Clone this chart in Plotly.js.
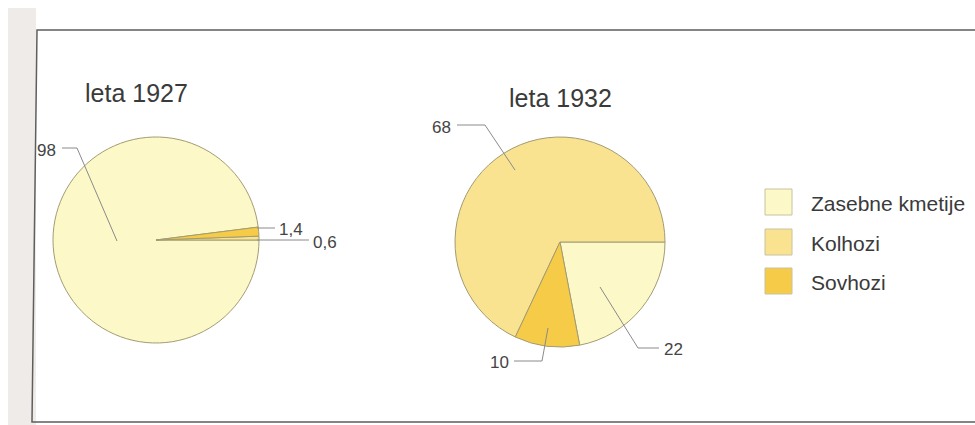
<!DOCTYPE html>
<html>
<head>
<meta charset="utf-8">
<script src="https://cdn.plot.ly/plotly-3.0.1.min.js"></script>
<style>html,body{margin:0;padding:0;background:#fff;}#chart{width:975px;height:425px;}</style>
</head>
<body>
<div id="chart"></div>
<script>
// ---- data ----
const categories = ["Zasebne kmetije", "Kolhozi", "Sovhozi"];
const values1927 = [98, 0.6, 1.4];
const values1932 = [22, 68, 10];
const years = ["leta 1927", "leta 1932"];

// ---- style ----
const colors = ["#FDF8C8", "#F9E391", "#F6CB47"];
const W = 975, H = 425;
const px = x => x / W;
const py = y => 1 - y / H;
const FONT = "Liberation Sans, Arial, sans-serif";
const fmt = v => String(v).replace(".", ",");

function pie(values, cx, cy, r, rotation) {
  return {
    type: "pie",
    labels: categories,
    values: values,
    sort: false,
    direction: "counterclockwise",
    rotation: rotation,
    textinfo: "none",
    hoverinfo: "label+value",
    showlegend: false,
    marker: { colors: colors, line: { color: "#A39C72", width: 1 } },
    domain: { x: [px(cx - r), px(cx + r)], y: [py(cy + r), py(cy - r)] }
  };
}

const data = [
  pie(values1927, 156, 240, 103, 90),
  pie(values1932, 560, 242, 105, 90)
];

// label placement (text position, anchor, leader polyline) per pie / category index
const labelSpecs = [
  { vals: values1927, items: [
    { i: 0, tx: 58, ty: 150, anchor: "right", path: [[62,148],[77,148],[117,241]] },
    { i: 2, tx: 277, ty: 229, anchor: "left", path: [[257,228],[275,228]] },
    { i: 1, tx: 311, ty: 242, anchor: "left", path: [[257,240],[309,240]] }
  ]},
  { vals: values1932, items: [
    { i: 1, tx: 453, ty: 127, anchor: "right", path: [[457,125],[485,125],[515,170]] },
    { i: 2, tx: 511, ty: 362, anchor: "right", path: [[514,361],[542,361],[548,328]] },
    { i: 0, tx: 662, ty: 349, anchor: "left", path: [[600,287],[638,348],[659,348]] }
  ]}
];

const shapes = [];
const annotations = [];

// page background / scan frame
shapes.push({ type: "rect", xref: "paper", yref: "paper", x0: px(8), x1: px(36), y0: py(425), y1: py(8),
  fillcolor: "#EFEBE9", line: { width: 0 }, layer: "below" });
shapes.push({ type: "path", xref: "paper", yref: "paper",
  path: `M${px(975)},${py(30)} L${px(37)},${py(30)} L${px(32)},${py(422)} L${px(975)},${py(422)}`,
  line: { color: "#5E5E5E", width: 1.5 } });

// titles
const titlePos = [[136, 93], [560, 98]];
years.forEach((t, k) => annotations.push({
  text: t, xref: "paper", yref: "paper", x: px(titlePos[k][0]), y: py(titlePos[k][1]),
  xanchor: "center", yanchor: "middle", showarrow: false,
  font: { family: FONT, size: 25, color: "#3A3A3A" }
}));

// value labels with leader lines
labelSpecs.forEach(spec => spec.items.forEach(it => {
  annotations.push({
    text: fmt(spec.vals[it.i]), xref: "paper", yref: "paper", x: px(it.tx), y: py(it.ty),
    xanchor: it.anchor, yanchor: "middle", showarrow: false,
    font: { family: FONT, size: 17, color: "#444" }
  });
  const p = it.path.map((q, j) => (j ? "L" : "M") + px(q[0]) + "," + py(q[1])).join(" ");
  shapes.push({ type: "path", xref: "paper", yref: "paper", path: p,
    line: { color: "#8A8A8A", width: 1 } });
}));

// legend
const legY = [202, 242, 281];
categories.forEach((c, k) => {
  shapes.push({ type: "rect", xref: "paper", yref: "paper",
    x0: px(765), x1: px(792), y0: py(legY[k] + 13), y1: py(legY[k] - 13),
    fillcolor: colors[k], line: { color: "#C9C2A0", width: 1 } });
  annotations.push({ text: c, xref: "paper", yref: "paper", x: px(809), y: py(legY[k] + 1),
    xanchor: "left", yanchor: "middle", showarrow: false,
    font: { family: FONT, size: 21, color: "#3A3A3A" } });
});

const layout = {
  width: W, height: H,
  margin: { l: 0, r: 0, t: 0, b: 0 },
  paper_bgcolor: "#FFFFFF",
  showlegend: false,
  shapes: shapes,
  annotations: annotations
};

Plotly.newPlot("chart", data, layout, { displayModeBar: false, staticPlot: true });
</script>
</body>
</html>
